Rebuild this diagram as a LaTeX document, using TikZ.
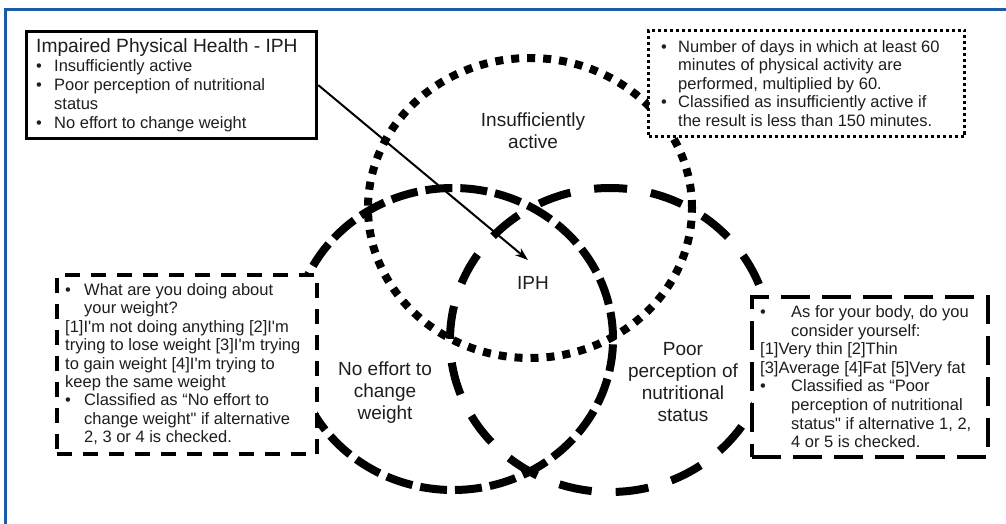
\documentclass[tikz,border=0pt]{standalone}
\usepackage{fontspec}
\setmainfont{Liberation Sans}[Ligatures=TeXOff]
\usetikzlibrary{positioning}
\usetikzlibrary{arrows.meta}
\definecolor{frameblue}{RGB}{28,92,166}
\definecolor{inktext}{RGB}{30,30,30}

\newcommand{\itembul}[1]{\makebox[#1][l]{\textbullet}}
\newcommand{\itemgap}[1]{\hspace*{#1}}

\begin{document}
\begin{tikzpicture}[x=1pt, y=-1pt,
  every node/.style={text=inktext},
  framebox/.style={anchor=north west, fill=white, inner sep=0pt},
  boxtext/.style={align=left, inner sep=0pt, font=\fontsize{16.5}{18.4}\selectfont},
  venntext/.style={align=center, inner sep=0pt, font=\fontsize{19}{22}\selectfont},
  dotring/.style={line width=8pt, dash pattern=on 8pt off 8pt},
  dashring/.style={line width=8pt, dash pattern=on 27pt off 8pt},
  longring/.style={line width=8pt, dash pattern=on 33pt off 24pt}]
  \useasboundingbox (0,0) rectangle (1006,524);
  \draw[frameblue, line width=3pt] (5.5,524) -- (5.5,9.5) -- (1006,9.5);

  % the three sets
  \draw[dotring] (530,208) ellipse [x radius=162pt, y radius=150pt];
  \draw[dashring] (453,339) ellipse [x radius=160pt, y radius=151pt];
  \draw[longring] (610,340) ellipse [x radius=160pt, y radius=152pt];

  % boxes
  \node[framebox, draw, line width=3.3pt, minimum width=290pt, minimum height=107pt] (iphbox) at (25,30) {};
  \node[boxtext, font=\fontsize{16.5}{19}\selectfont, right=11pt of iphbox.west] (iphtext) {%
    {\fontsize{19.2}{19}\selectfont Impaired Physical Health - IPH}\\
    \itembul{18pt}Insufficiently active\\
    \itembul{18pt}Poor perception of nutritional\\
    \itemgap{18pt}status\\
    \itembul{18pt}No effort to change weight};

  \node[framebox, draw, line width=3pt, dash pattern=on 3pt off 3pt, minimum width=316pt, minimum height=106pt] (actbox) at (647,29) {};
  \node[boxtext, right=14pt of actbox.west] (acttext) {%
    \itembul{17pt}Number of days in which at least 60\\
    \itemgap{17pt}minutes of physical activity are\\
    \itemgap{17pt}performed, multiplied by 60.\\
    \itembul{17pt}Classified as insufficiently active if\\
    \itemgap{17pt}the result is less than 150 minutes.};

  \node[framebox, draw, line width=3.5pt, dash pattern=on 15pt off 11pt, minimum width=260pt, minimum height=179pt] (effbox) at (55,273) {};
  \node[boxtext, right=10pt of effbox.west] (efftext) {%
    \itembul{19pt}What are you doing about\\
    \itemgap{19pt}your weight?\\
    {}[1]I'm not doing anything [2]I'm\\
    trying to lose weight [3]I'm trying\\
    to gain weight [4]I'm trying to\\
    keep the same weight\\
    \itembul{19pt}Classified as “No effort to\\
    \itemgap{19pt}change weight" if alternative\\
    \itemgap{19pt}2, 3 or 4 is checked.};

  \node[framebox, draw, line width=3.5pt, dash pattern=on 29pt off 12pt, minimum width=236pt, minimum height=160pt] (nutbox) at (750,295) {};
  \node[boxtext, font=\fontsize{16.5}{18.6}\selectfont, right=10pt of nutbox.west] (nuttext) {%
    \itembul{31pt}As for your body, do you\\
    \itemgap{31pt}consider yourself:\\
    {}[1]Very thin [2]Thin\\
    {}[3]Average [4]Fat [5]Very fat\\
    \itembul{31pt}Classified as “Poor\\
    \itemgap{31pt}perception of nutritional\\
    \itemgap{31pt}status" if alternative 1, 2,\\
    \itemgap{31pt}4 or 5 is checked.};

  % set labels
  \node[venntext] (actlbl) at (533,131) {Insufficiently\\active};
  \node[venntext] (iphlbl) at (533,283) {IPH};
  \node[venntext] (efflbl) at (385,393) {No effort to\\change\\weight};
  \node[venntext] (nutlbl) at (683,382) {Poor\\perception of\\nutritional\\status};

  \coordinate (iphtip) at (528,260);
  \draw[line width=2pt, -{Stealth[length=13pt, width=9pt]}] (iphbox.east) -- (iphtip);
\end{tikzpicture}
\end{document}
